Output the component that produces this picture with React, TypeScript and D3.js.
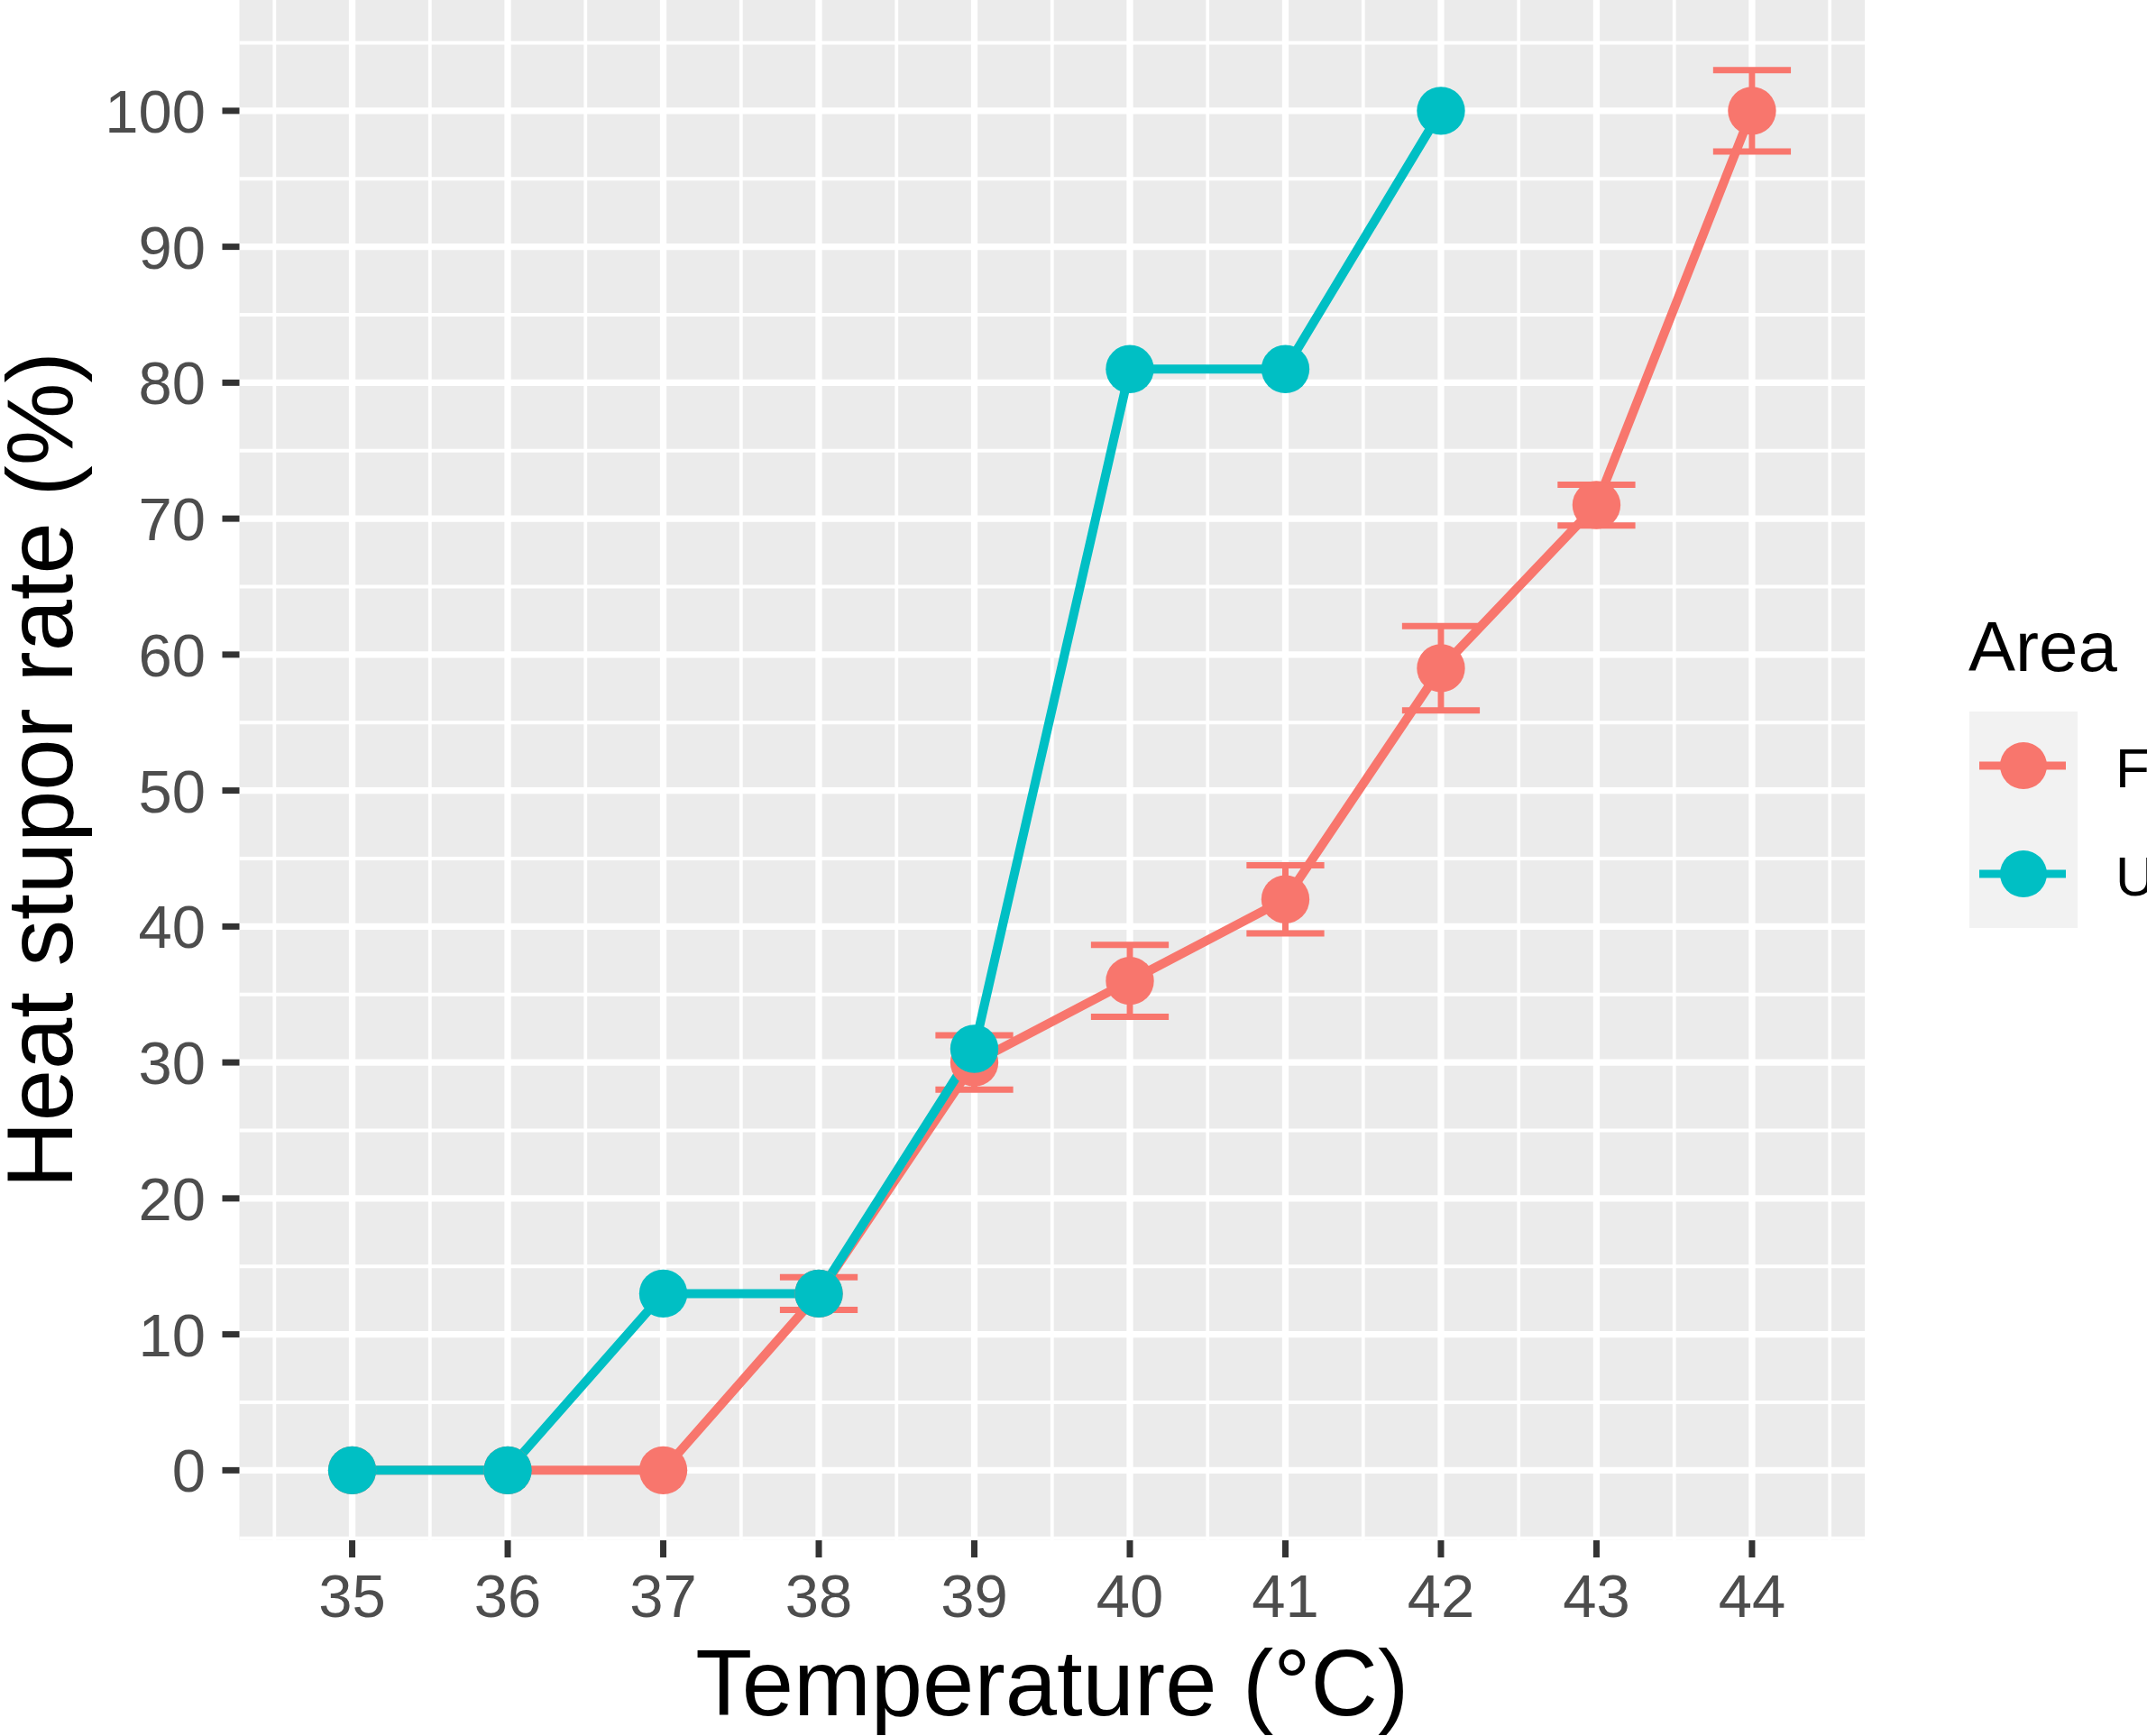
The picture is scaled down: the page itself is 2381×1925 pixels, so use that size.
import * as d3 from 'd3';
import React, { useEffect, useRef } from 'react';

// Heat stupor rate by temperature, two areas
const temps = [35, 36, 37, 38, 39, 40, 41, 42, 43, 44];
const rateF = [0, 0, 0, 13, 30, 36, 42, 59, 71, 100];
const errF = [0, 0, 0, 1.2, 2, 2.65, 2.5, 3.1, 1.5, 3];
const tempsU = [35, 36, 37, 38, 39, 40, 41, 42];
const rateU = [0, 0, 13, 13, 31, 81, 81, 100];
const xTicks = [35, 36, 37, 38, 39, 40, 41, 42, 43, 44];
const yTicks = [0, 10, 20, 30, 40, 50, 60, 70, 80, 90, 100];
const areas = ['F', 'U'];

const colF = '#F8766D';
const colU = '#00BFC4';
const font = '"Liberation Sans", Arial, sans-serif';

export default function App() {
  const svgRef = useRef<SVGSVGElement>(null);
  const width = 2381;
  const height = 1925;

  useEffect(() => {
    if (!svgRef.current) return;
    const svg = d3.select(svgRef.current);
    svg.selectAll('*').remove();

    const panel = { left: 265.5, right: 2068, top: 0, bottom: 1708 };

    // ggplot-like 5% expansion around the data (errorbar width 0.5)
    const xLo = d3.min(temps) - 0.25;
    const xHi = d3.max(temps) + 0.25;
    const xPad = (xHi - xLo) * 0.05;
    const yLo = 0;
    const yHi = d3.max(rateF.map((d, i) => d + errF[i]));
    const yPad = (yHi - yLo) * 0.05;

    const x = d3.scaleLinear().domain([xLo - xPad, xHi + xPad]).range([panel.left, panel.right]);
    const y = d3.scaleLinear().domain([yLo - yPad, yHi + yPad]).range([panel.bottom, panel.top]);

    svg.append('rect')
      .attr('x', panel.left)
      .attr('y', panel.top)
      .attr('width', panel.right - panel.left)
      .attr('height', panel.bottom - panel.top)
      .attr('fill', '#EBEBEB');

    const grid = svg.append('g');
    const xMinor = d3.range(34.5, 45, 1).filter(v => v >= x.domain()[0] && v <= x.domain()[1]);
    const yMinor = d3.range(-5, 110, 10).filter(v => v >= y.domain()[0] && v <= y.domain()[1]);

    grid.selectAll('.xminor').data(xMinor).enter().append('line')
      .attr('x1', d => x(d)).attr('x2', d => x(d))
      .attr('y1', panel.top).attr('y2', panel.bottom)
      .attr('stroke', '#fff').attr('stroke-width', 3.8);
    grid.selectAll('.yminor').data(yMinor).enter().append('line')
      .attr('y1', d => y(d)).attr('y2', d => y(d))
      .attr('x1', panel.left).attr('x2', panel.right)
      .attr('stroke', '#fff').attr('stroke-width', 3.8);
    grid.selectAll('.xmajor').data(xTicks).enter().append('line')
      .attr('x1', d => x(d)).attr('x2', d => x(d))
      .attr('y1', panel.top).attr('y2', panel.bottom)
      .attr('stroke', '#fff').attr('stroke-width', 7.3);
    grid.selectAll('.ymajor').data(yTicks).enter().append('line')
      .attr('y1', d => y(d)).attr('y2', d => y(d))
      .attr('x1', panel.left).attr('x2', panel.right)
      .attr('stroke', '#fff').attr('stroke-width', 7.3);

    // error bars
    const fData = temps.map((t, i) => ({ t, v: rateF[i], e: errF[i] }));
    const uData = tempsU.map((t, i) => ({ t, v: rateU[i] }));
    const eb = svg.append('g').attr('stroke', colF).attr('stroke-width', 7).attr('fill', 'none');
    fData.filter(d => d.e > 0).forEach(d => {
      eb.append('path')
        .attr('d', `M${x(d.t - 0.25)},${y(d.v + d.e)}H${x(d.t + 0.25)}M${x(d.t)},${y(d.v + d.e)}V${y(d.v - d.e)}M${x(d.t - 0.25)},${y(d.v - d.e)}H${x(d.t + 0.25)}`);
    });

    const line = d3.line<any>().x(d => x(d.t)).y(d => y(d.v));
    svg.append('path').datum(fData).attr('d', line)
      .attr('fill', 'none').attr('stroke', colF).attr('stroke-width', 10);
    svg.append('path').datum(uData).attr('d', line)
      .attr('fill', 'none').attr('stroke', colU).attr('stroke-width', 10);

    svg.append('g').selectAll('circle').data(fData).enter().append('circle')
      .attr('cx', d => x(d.t)).attr('cy', d => y(d.v)).attr('r', 26.7).attr('fill', colF);
    svg.append('g').selectAll('circle').data(uData).enter().append('circle')
      .attr('cx', d => x(d.t)).attr('cy', d => y(d.v)).attr('r', 26.7).attr('fill', colU);

    // axes
    const axes = svg.append('g');
    axes.selectAll('.xt').data(xTicks).enter().append('line')
      .attr('x1', d => x(d)).attr('x2', d => x(d))
      .attr('y1', panel.bottom).attr('y2', panel.bottom + 19)
      .attr('stroke', '#333333').attr('stroke-width', 7);
    axes.selectAll('.xl').data(xTicks).enter().append('text')
      .attr('x', d => x(d)).attr('y', 1793)
      .attr('text-anchor', 'middle')
      .style('font-family', font).style('font-size', '67px').style('fill', '#4D4D4D')
      .text(d => d);
    axes.selectAll('.yt').data(yTicks).enter().append('line')
      .attr('y1', d => y(d)).attr('y2', d => y(d))
      .attr('x1', panel.left - 19).attr('x2', panel.left)
      .attr('stroke', '#333333').attr('stroke-width', 7);
    axes.selectAll('.yl').data(yTicks).enter().append('text')
      .attr('x', 228).attr('y', d => y(d) + 24)
      .attr('text-anchor', 'end')
      .style('font-family', font).style('font-size', '67px').style('fill', '#4D4D4D')
      .text(d => d);

    svg.append('text')
      .attr('x', (panel.left + panel.right) / 2).attr('y', 1902)
      .attr('text-anchor', 'middle')
      .style('font-family', font).style('font-size', '103px').style('fill', '#000')
      .text('Temperature (°C)');
    svg.append('text')
      .attr('transform', `translate(80,${(panel.top + panel.bottom) / 2}) rotate(-90)`)
      .attr('text-anchor', 'middle')
      .style('font-family', font).style('font-size', '103px').style('fill', '#000')
      .text('Heat stupor rate (%)');

    // legend
    const lg = svg.append('g');
    lg.append('text')
      .attr('x', 2183).attr('y', 744)
      .style('font-family', font).style('font-size', '78px').style('fill', '#000')
      .text('Area');
    lg.append('rect')
      .attr('x', 2184).attr('y', 789).attr('width', 120).attr('height', 240)
      .attr('fill', '#F2F2F2');
    areas.forEach((a, i) => {
      const cy = 849 + i * 120;
      const c = i === 0 ? colF : colU;
      lg.append('line')
        .attr('x1', 2195).attr('x2', 2291).attr('y1', cy).attr('y2', cy)
        .attr('stroke', c).attr('stroke-width', 9);
      lg.append('circle').attr('cx', 2244).attr('cy', cy).attr('r', 26).attr('fill', c);
      lg.append('text')
        .attr('x', 2346).attr('y', cy + 24)
        .style('font-family', font).style('font-size', '62px').style('fill', '#000')
        .text(a);
    });
  }, []);

  return (
    <svg
      ref={svgRef}
      width={width}
      height={height}
      style={{ position: 'absolute', left: 0, top: 0, background: '#ffffff' }}
    />
  );
}
